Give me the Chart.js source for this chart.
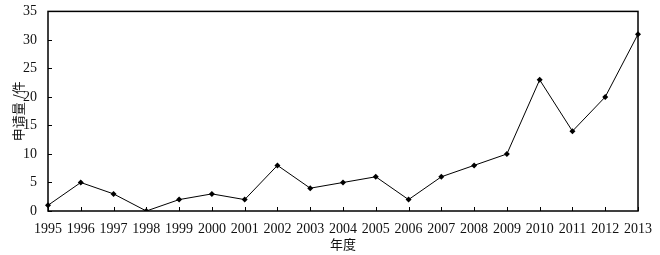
<!DOCTYPE html>
<html><head><meta charset="utf-8">
<script src="https://cdn.jsdelivr.net/npm/chart.js@4"></script>
<style>html,body{margin:0;padding:0;background:#fff}#w{width:660px;height:255px}</style>
</head><body><div id="w"><canvas id="c"></canvas></div>
<script>
const years = ['1995','1996','1997','1998','1999','2000','2001','2002','2003','2004','2005','2006','2007','2008','2009','2010','2011','2012','2013'];
const applications = [1,5,3,0,2,3,2,8,4,5,6,2,6,8,10,23,14,20,31];
const yTicks = [0,5,10,15,20,25,30,35];

const frame = {
  id:'frame',
  afterDraw(chart){
    const {ctx, chartArea:a, scales:{x,y}} = chart;
    ctx.save();
    ctx.strokeStyle='#000';
    ctx.lineWidth=1.5;
    ctx.strokeRect(a.left, a.top, a.right-a.left, a.bottom-a.top);
    ctx.lineWidth=1;
    ctx.beginPath();
    x.ticks.forEach((t,i)=>{const px=Math.round(x.getPixelForTick(i))+0.5; ctx.moveTo(px,a.bottom); ctx.lineTo(px,a.bottom-4);});
    y.ticks.forEach((t,i)=>{const py=Math.round(y.getPixelForTick(i))+0.5; ctx.moveTo(a.left,py); ctx.lineTo(a.left+4,py);});
    ctx.stroke();
    ctx.restore();
  }
};

new Chart(document.getElementById('c'), {
  type:'line',
  data:{labels:years, datasets:[{data:applications, borderColor:'#000', borderWidth:1, backgroundColor:'#000', pointStyle:'rectRot', pointRadius:3, pointBorderWidth:0, tension:0}]},
  options:{
    responsive:true, maintainAspectRatio:false, animation:false,
    layout:{padding:{left:0,right:22,top:10,bottom:0}},
    plugins:{legend:{display:false}, tooltip:{enabled:false}},
    scales:{
      x:{type:'category', offset:false,
        grid:{display:false}, border:{display:false},
        ticks:{color:'#111', font:{family:'Liberation Serif', size:14}, padding:2, maxRotation:0, autoSkip:false},
        title:{display:true, text:'年度', color:'#111', font:{family:'Noto Sans CJK SC', size:13}, padding:{top:0,bottom:3}},
        afterFit(s){ s.height = 44; }
      },
      y:{min:0, max:35, afterBuildTicks(s){ s.ticks = yTicks.map(v=>({value:v})); },
        grid:{display:false}, border:{display:false},
        ticks:{color:'#111', font:{family:'Liberation Serif', size:14}, padding:3},
        title:{display:true, text:'申请量 /件', color:'#111', font:{family:'Noto Sans CJK SC', size:13}, padding:{top:10,bottom:0}},
        afterFit(s){ s.width = 48; }
      }
    }
  },
  plugins:[frame]
});
</script></body></html>
